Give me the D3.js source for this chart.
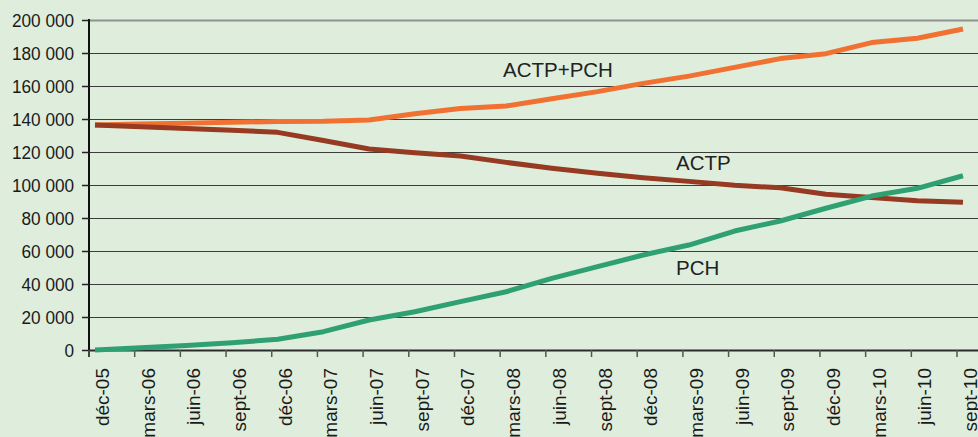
<!DOCTYPE html>
<html>
<head>
<meta charset="utf-8">
<script src="https://cdn.jsdelivr.net/npm/d3@7"></script>
<style>
  body { margin: 0; background: #dfeedc; }
  svg { display: block; }
  .tick-label { font-family: "Liberation Sans", Arial, sans-serif; fill: #1a1a1a; }
  .series-label { font-family: "Liberation Sans", Arial, sans-serif; font-size: 20.5px; fill: #222; }
</style>
</head>
<body>
<svg id="chart" width="978" height="437"></svg>
<script>
// categories (quarters)
var periods = [ "déc-05", "mars-06", "juin-06", "sept-06", "déc-06", "mars-07", "juin-07", "sept-07",
  "déc-07", "mars-08", "juin-08", "sept-08", "déc-08", "mars-09", "juin-09", "sept-09",
  "déc-09", "mars-10", "juin-10", "sept-10" ];

// series values
var actp_pch = [ 136400, 137000, 137500, 138000, 138500, 138600, 139400, 143200,
  146400, 147900, 152300, 156600, 161600, 166000, 171300, 176600,
  179600, 186300, 188900, 194500 ];
var actp = [ 136400, 135300, 134300, 133200, 131900, 127000, 121800, 119600,
  117600, 113700, 110100, 107100, 104400, 102200, 99800, 98300,
  94400, 92400, 90500, 89500 ];
var pch = [ 0, 1300, 2700, 4400, 6500, 11100, 18200, 23200,
  29300, 35300, 43400, 50500, 57600, 63600, 72100, 78200,
  85900, 93300, 98000, 105600 ];

var y_ticks = [ 0, 20000, 40000, 60000, 80000, 100000, 120000, 140000, 160000, 180000, 200000 ];

var series = [
  { name: "ACTP+PCH", values: actp_pch, color: "#f07131", label_x: 503, label_y: 77 },
  { name: "ACTP", values: actp, color: "#963a22", label_x: 676, label_y: 170 },
  { name: "PCH", values: pch, color: "#2fa072", label_x: 676, label_y: 275 }
];

var svg = d3.select( "#chart" );

var axis_x0 = 89;
var x = d3.scalePoint().domain( periods ).range( [ 95, 963 ] );
var y = d3.scaleLinear().domain( [ 0, 200000 ] ).range( [ 350, 20 ] );

var fmt = function( v ){ return d3.format( ",d" )( v ).replace( /,/g, " " ); };

// horizontal gridlines
svg.append( "g" )
  .selectAll( "line" )
  .data( y_ticks.filter( function( d ){ return d > 0; } ) )
  .enter()
  .append( "line" )
  .attr( "x1", axis_x0 )
  .attr( "x2", 978 )
  .attr( "y1", function( d ){ return Math.round( y( d ) ) + 0.5; } )
  .attr( "y2", function( d ){ return Math.round( y( d ) ) + 0.5; } )
  .attr( "stroke", function( d ){ return d == 200000 ? "#8f9290" : "#3a3d3a"; } )
  .attr( "stroke-width", function( d ){ return d == 200000 ? 2 : 1; } );

// y axis
var y_axis = svg.append( "g" ).attr( "transform", "translate(" + axis_x0 + ",0)" )
  .call( d3.axisLeft( y ).tickValues( y_ticks ).tickSize( 7 ).tickPadding( 9 ).tickFormat( fmt ) );
y_axis.select( ".domain" ).attr( "stroke", "#111" ).attr( "stroke-width", 2 ).attr( "d", "M0,19V357" );
y_axis.selectAll( ".tick line" ).attr( "stroke", "#222" ).attr( "stroke-width", 1.5 );
y_axis.selectAll( ".tick text" )
  .classed( "tick-label", true )
  .attr( "font-size", null )
  .style( "font-size", "18.5px" )
  .attr( "transform", "scale(0.93,1)" )
  .attr( "dy", "0.36em" );

// x axis line
svg.append( "line" )
  .attr( "x1", axis_x0 ).attr( "x2", 978 )
  .attr( "y1", 350.5 ).attr( "y2", 350.5 )
  .attr( "stroke", "#2a2a2a" ).attr( "stroke-width", 2 );

// x ticks and rotated labels
var x_ticks = svg.append( "g" );
x_ticks.selectAll( "line" )
  .data( periods )
  .enter()
  .append( "line" )
  .attr( "x1", function( d ){ return x( d ) - 6; } )
  .attr( "x2", function( d ){ return x( d ) - 6; } )
  .attr( "y1", 350 ).attr( "y2", 357 )
  .attr( "stroke", "#555" ).attr( "stroke-width", 1.5 );

x_ticks.selectAll( "text" )
  .data( periods )
  .enter()
  .append( "text" )
  .classed( "tick-label", true )
  .style( "font-size", "19px" )
  .attr( "text-anchor", "end" )
  .attr( "transform", function( d ){ return "translate(" + ( x( d ) + 14 ) + ",368) rotate(-90)"; } )
  .text( function( d ){ return d; } );

// lines
var line = d3.line()
  .x( function( d, i ){ return x( periods[ i ] ); } )
  .y( function( d ){ return y( d ); } );

series.forEach( function( s ){
  svg.append( "path" )
    .datum( s.values )
    .attr( "fill", "none" )
    .attr( "stroke", s.color )
    .attr( "stroke-width", 5 )
    .attr( "stroke-linejoin", "round" )
    .attr( "d", line );
} );

// series labels
svg.selectAll( ".series-label" )
  .data( series )
  .enter()
  .append( "text" )
  .classed( "series-label", true )
  .attr( "x", function( d ){ return d.label_x; } )
  .attr( "y", function( d ){ return d.label_y; } )
  .text( function( d ){ return d.name; } );
</script>
</body>
</html>
